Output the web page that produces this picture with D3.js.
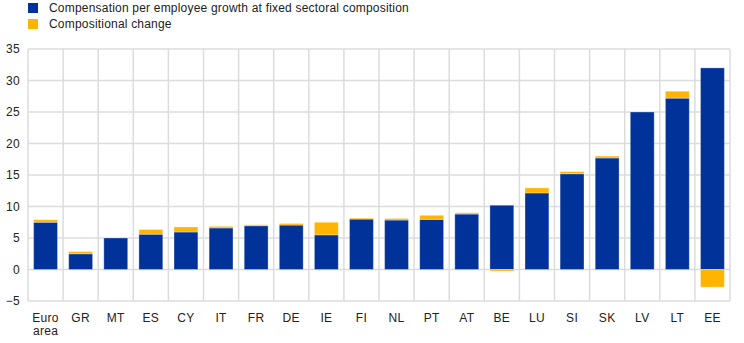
<!DOCTYPE html>
<html>
<head>
<meta charset="utf-8">
<script src="https://cdn.jsdelivr.net/npm/d3@7"></script>
<style>
  body { margin: 0; background: #fff; }
  svg { display: block; font-family: "Liberation Sans", Arial, sans-serif; }
</style>
</head>
<body>
<div id="app"></div>
<script>
// data
const countries = ['Euro area', 'GR', 'MT', 'ES', 'CY', 'IT', 'FR', 'DE', 'IE', 'FI',
    'NL', 'PT', 'AT', 'BE', 'LU', 'SI', 'SK', 'LV', 'LT', 'EE'];
const fixedComp = [7.5, 2.5, 5.0, 5.6, 5.95, 6.6, 6.95, 7.05, 5.5, 8.0,
    7.85, 7.95, 8.8, 10.2, 12.15, 15.2, 17.7, 25.0, 27.2, 32.0];
const compChange = [0.4, 0.35, 0, 0.75, 0.8, 0.25, 0.15, 0.25, 2.0, 0.15,
    0.25, 0.65, 0.2, -0.25, 0.8, 0.35, 0.3, 0, 1.1, -2.8];
const seriesNames = ['Compensation per employee growth at fixed sectoral composition', 'Compositional change'];
const colors = ['#003299', '#ffb400'];
const yTicks = [-5, 0, 5, 10, 15, 20, 25, 30, 35];

const width = 744, height = 343;
const margin = { top: 49, right: 14, bottom: 42, left: 28 };

const rows = countries.map((c, i) => ({ name: c, a: fixedComp[i], b: compChange[i] }));
const stacked = d3.stack()
    .keys(['a', 'b'])
    .offset(d3.stackOffsetDiverging)(rows);

const x = d3.scaleBand()
    .domain(countries)
    .range([margin.left, width - margin.right])
    .paddingInner(0.32)
    .paddingOuter(0.16);

const y = d3.scaleLinear()
    .domain([-5, 35])
    .range([height - margin.bottom, margin.top]);

const svg = d3.select('#app').append('svg')
    .attr('width', width)
    .attr('height', height);

// grid
const step = x.step();
const edges = d3.range(countries.length + 1).map(i => margin.left + i * step);
svg.append('g')
    .selectAll('line.v')
    .data(edges)
    .join('line')
    .attr('x1', d => d).attr('x2', d => d)
    .attr('y1', y(35)).attr('y2', y(-5))
    .attr('stroke', '#dcdcdc').attr('stroke-width', 1.5);

svg.append('g')
    .selectAll('line.h')
    .data(yTicks)
    .join('line')
    .attr('x1', margin.left).attr('x2', width - margin.right)
    .attr('y1', d => y(d)).attr('y2', d => y(d))
    .attr('stroke', '#dcdcdc').attr('stroke-width', 1.5);

// bars
svg.append('g')
    .selectAll('g')
    .data(stacked)
    .join('g')
    .attr('fill', (d, i) => colors[i])
    .selectAll('rect')
    .data(d => d)
    .join('rect')
    .attr('x', d => x(d.data.name))
    .attr('width', x.bandwidth())
    .attr('y', d => y(Math.max(d[0], d[1])))
    .attr('height', d => Math.abs(y(d[0]) - y(d[1])))
    .attr('stroke', '#fff').attr('stroke-opacity', 0.3).attr('stroke-width', 1);

// y axis labels
const yAxis = g => g
    .attr('transform', `translate(${margin.left}, 0)`)
    .call(d3.axisLeft(y).tickValues(yTicks).tickSize(0).tickPadding(8))
    .call(g => g.select('.domain').remove())
    .call(g => g.selectAll('text')
        .attr('font-size', 12)
        .attr('letter-spacing', 0.3)
        .attr('font-family', '"Liberation Sans", Arial, sans-serif')
        .attr('fill', '#222'));
svg.append('g').call(yAxis);

// x axis labels
const xAxis = g => g
    .attr('transform', `translate(0, ${y(-5)})`)
    .call(d3.axisBottom(x).tickSize(0).tickPadding(12))
    .call(g => g.select('.domain').remove())
    .call(g => g.selectAll('text')
        .attr('font-size', 12)
        .attr('letter-spacing', 0.3)
        .attr('font-family', '"Liberation Sans", Arial, sans-serif')
        .attr('fill', '#222')
        .text(null)
        .each(function (d) {
            const parts = d === 'Euro area' ? ['Euro', 'area'] : [d];
            const t = d3.select(this);
            parts.forEach((p, i) => t.append('tspan')
                .attr('x', 0)
                .attr('dy', i === 0 ? '0.71em' : '1.1em')
                .text(p));
        }));
svg.append('g').call(xAxis);

// legend
const legend = svg.append('g')
    .selectAll('g')
    .data(seriesNames)
    .join('g')
    .attr('transform', (d, i) => `translate(28, ${3 + i * 16})`);
legend.append('rect')
    .attr('width', 10).attr('height', 10)
    .attr('fill', (d, i) => colors[i]);
legend.append('text')
    .attr('x', 21).attr('y', 5)
    .attr('dy', '0.35em')
    .attr('font-size', 12)
    .attr('letter-spacing', 0.2)
    .attr('fill', '#222')
    .text(d => d);
</script>
</body>
</html>
